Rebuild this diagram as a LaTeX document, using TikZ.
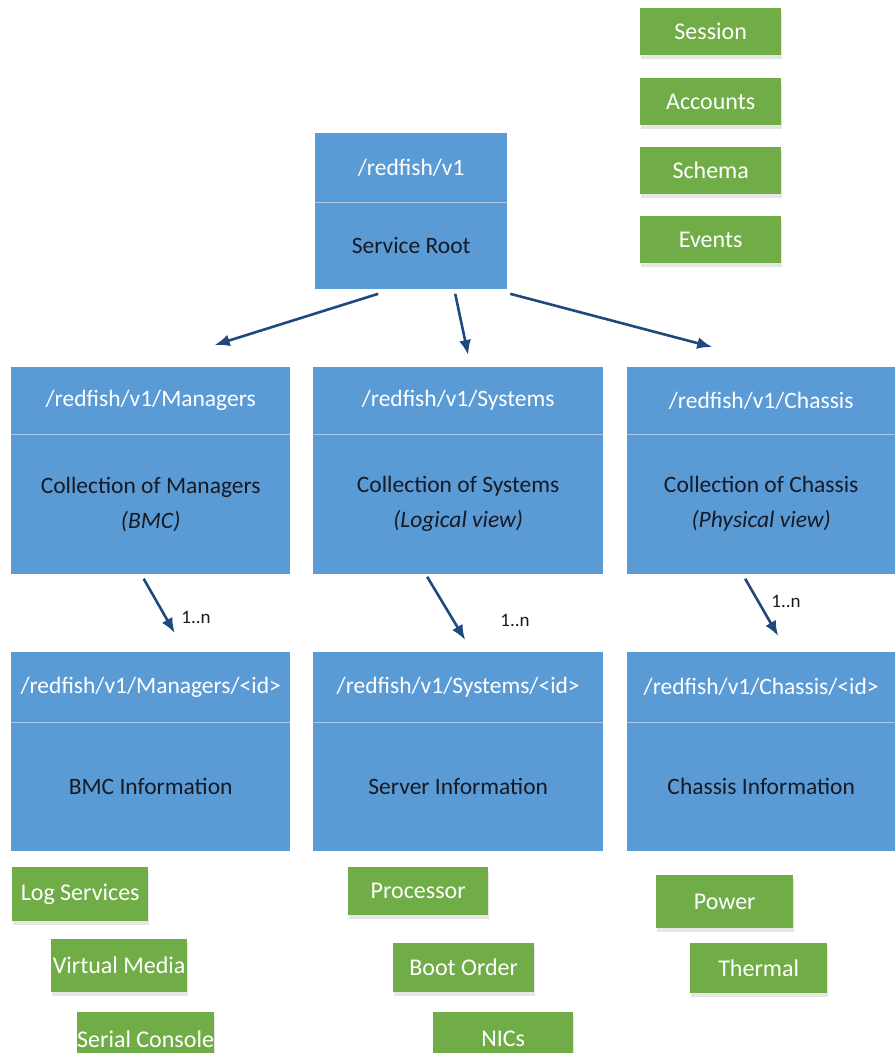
\documentclass[tikz,border=0pt]{standalone}
\usepackage{fontspec}
\setmainfont{Carlito}
\usetikzlibrary{positioning,shadows,arrows.meta}
\definecolor{boxblue}{RGB}{91,155,213}
\definecolor{lineblue}{RGB}{170,202,232}
\definecolor{leafgreen}{RGB}{112,173,71}
\definecolor{arrowblue}{RGB}{31,73,125}
\definecolor{txtdark}{RGB}{22,26,36}

\tikzset{
  hdr/.style={fill=boxblue, text=white, anchor=north west, inner sep=0pt, font=\fontsize{23.5}{27}\selectfont},
  body/.style={fill=boxblue, text=txtdark, align=center, inner sep=0pt, font=\fontsize{23.5}{35}\selectfont},
  leaf/.style={fill=leafgreen, text=white, anchor=north west, minimum width=139pt, inner sep=0pt,
    font=\fontsize{24}{28}\selectfont, drop shadow={shadow xshift=1pt, shadow yshift=-4pt, opacity=0.2}},
  link/.style={-{Latex[length=15pt,width=12pt]}, line width=2.6pt, arrowblue},
  divider/.style={lineblue, line width=1.5pt},
  mult/.style={text=txtdark, font=\fontsize{19}{22}\selectfont}
}

\begin{document}
\begin{tikzpicture}[x=1pt, y=-1pt]

\useasboundingbox (0,0) rectangle (895,1053);
\clip (0,0) rectangle (895,1053);

% Root
\node[hdr, minimum width=192pt, minimum height=69pt] (roothdr) at (315,133) {/redfish/v1};
\node[body, minimum width=192pt, minimum height=86pt, below=0pt of roothdr] (root) {Service Root};
\draw[divider] (roothdr.south west) -- (roothdr.south east);

% Side services
\node[leaf, minimum width=141pt, minimum height=47pt] (session) at (640,8) {Session};
\node[leaf, minimum width=141pt, minimum height=47pt] (accounts) at (640,78) {Accounts};
\node[leaf, minimum width=141pt, minimum height=47pt] (schema) at (640,147) {Schema};
\node[leaf, minimum width=141pt, minimum height=47pt] (events) at (640,216) {Events};

% Collections
\node[hdr, minimum width=279pt, minimum height=67pt] (mgrhdr) at (11,367) {/redfish/v1/Managers};
\node[body, minimum width=279pt, minimum height=139pt, below=0pt of mgrhdr] (mgr) {Collection of Managers\\\textit{(BMC)}};
\node[hdr, minimum width=290pt, minimum height=67pt] (syshdr) at (313,367) {/redfish/v1/Systems};
\node[body, minimum width=290pt, minimum height=139pt, below=0pt of syshdr] (sys) {Collection of Systems\\\textit{(Logical view)}};
\node[hdr, minimum width=268pt, minimum height=67pt] (chshdr) at (627,367) {/redfish/v1/Chassis};
\node[body, minimum width=268pt, minimum height=139pt, below=0pt of chshdr] (chs) {Collection of Chassis\\\textit{(Physical view)}};
\foreach \n in {mgrhdr,syshdr,chshdr}
  \draw[divider] (\n.south west) -- (\n.south east);

% Members
\node[hdr, minimum width=279pt, minimum height=70pt] (mgridhdr) at (11,652) {/redfish/v1/Managers/<id>};
\node[body, minimum width=279pt, minimum height=128pt, below=0pt of mgridhdr] (mgrid) {BMC Information};
\node[hdr, minimum width=290pt, minimum height=70pt] (sysidhdr) at (313,652) {/redfish/v1/Systems/<id>};
\node[body, minimum width=290pt, minimum height=128pt, below=0pt of sysidhdr] (sysid) {Server Information};
\node[hdr, minimum width=268pt, minimum height=70pt] (chsidhdr) at (627,652) {/redfish/v1/Chassis/<id>};
\node[body, minimum width=268pt, minimum height=128pt, below=0pt of chsidhdr] (chsid) {Chassis Information};
\foreach \n in {mgridhdr,sysidhdr,chsidhdr}
  \draw[divider] (\n.south west) -- (\n.south east);

% Arrows
\draw[link] ([xshift=-33pt, yshift=-5pt]root.south) -- ([xshift=64pt, yshift=22pt]mgrhdr.north);
\draw[link] ([xshift=44pt, yshift=-5pt]root.south) -- ([xshift=10pt, yshift=12pt]syshdr.north);
\draw[link] ([xshift=99pt, yshift=-5pt]root.south) -- ([xshift=-49pt, yshift=20pt]chshdr.north);
\draw[link] ([xshift=-7pt, yshift=-5pt]mgr.south) -- ([xshift=24pt, yshift=19pt]mgridhdr.north);
\draw[link] ([xshift=-31pt, yshift=-3pt]sys.south) -- ([xshift=7pt, yshift=12pt]sysidhdr.north);
\draw[link] ([xshift=-16pt, yshift=-5pt]chs.south) -- ([xshift=17pt, yshift=16pt]chsidhdr.north);

% Multiplicities
\node[mult] (mgrmult) at (196,617) {1..n};
\node[mult] (sysmult) at (515,620) {1..n};
\node[mult] (chsmult) at (786,601) {1..n};

% Sub-resources
\node[leaf, minimum width=136pt, minimum height=54pt] (logsvc) at (12,867) {Log Services};
\node[leaf, minimum width=136pt, minimum height=53pt] (vmedia) at (51,939) {Virtual Media};
\node[leaf, minimum width=136pt, minimum height=54pt] (serial) at (77,1012) {Serial Console};
\node[leaf, minimum width=140pt, minimum height=48pt] (proc) at (348,867) {Processor};
\node[leaf, minimum width=141pt, minimum height=49pt] (boot) at (393,943) {Boot Order};
\node[leaf, minimum width=140pt, minimum height=54pt] (nics) at (433,1012) {NICs};
\node[leaf, minimum width=137pt, minimum height=53pt] (power) at (656,875) {Power};
\node[leaf, minimum width=137pt, minimum height=50pt] (thermal) at (690,943) {Thermal};

\end{tikzpicture}
\end{document}
